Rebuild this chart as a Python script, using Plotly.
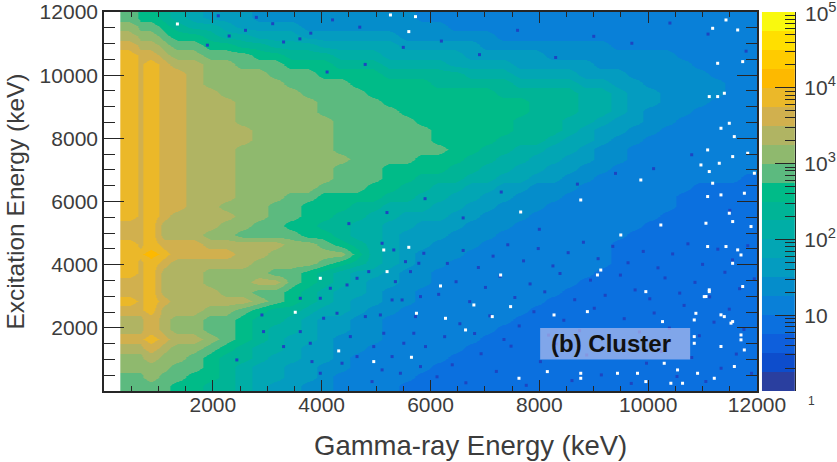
import plotly.graph_objects as go

# Bin edges of gamma-ray energy (keV): the 511 keV / 800 keV region is resolved more finely
gamma_edges = [300, 620, 720, 1000, 1200] + [1500 + 300 * i for i in range(36)]
excitation_kev = [11850 - 300 * i for i in range(40)]

# Count level of each bin, in quarter decades (0 = 1 count, 4 = 10, 8 = 100 ...)
levels = [
[11,10,10,9,8,7,6,6,6,5,5,5,5,5,5,5,5,5,5,4,4,4,4,4,4,4,4,4,4,4,4,4,4,4,4,4,4,4,4,4],
[12,11,11,10,9,8,8,7,6,6,6,6,5,5,5,5,5,5,5,5,5,4,4,4,4,4,4,4,4,4,4,4,4,4,4,4,4,4,4,4],
[13,12,12,11,10,10,9,8,8,7,7,7,6,6,6,6,6,6,5,5,5,5,5,5,4,4,4,4,4,4,4,4,4,4,4,4,4,4,4,4],
[14,13,13,12,11,11,10,10,9,9,8,8,8,7,7,7,7,7,6,6,6,6,6,5,5,5,5,5,5,5,5,4,4,4,4,4,4,4,4,4],
[15,14,14,13,12,12,11,11,11,10,10,9,9,9,8,8,8,7,7,7,7,7,6,6,6,6,6,5,5,5,5,5,5,5,5,4,4,4,4,4],
[15,14,15,14,13,13,12,12,11,11,11,10,10,10,9,9,9,8,8,8,8,7,7,7,7,6,6,6,6,6,5,5,5,5,5,5,4,4,4,4],
[15,14,15,14,14,13,12,12,12,12,11,11,11,10,10,10,10,9,9,9,9,9,8,8,8,7,7,7,7,6,6,6,5,5,5,5,5,4,4,4],
[15,14,15,14,14,13,12,12,12,12,12,11,11,11,11,10,10,10,10,10,9,9,9,9,9,8,8,8,8,7,7,6,6,5,5,5,5,5,4,4],
[15,14,15,14,14,13,13,12,12,12,12,12,11,11,11,11,10,10,10,10,10,10,10,10,9,9,9,9,9,8,8,7,6,6,5,5,5,5,4,4],
[15,14,15,14,14,13,13,13,12,12,12,12,12,11,11,11,11,10,10,10,10,10,10,10,10,10,9,9,9,8,8,7,6,6,5,5,5,4,4,4],
[15,14,15,14,14,13,13,13,12,12,12,12,12,11,11,11,11,11,10,10,10,10,10,10,10,10,9,9,9,8,8,7,6,5,5,5,4,4,4,4],
[15,14,15,14,14,13,13,13,12,12,12,12,12,12,11,11,11,11,11,10,10,10,10,10,10,9,9,9,8,8,7,6,6,5,5,4,4,4,4,4],
[15,14,15,14,14,13,13,13,13,12,12,12,12,12,11,11,11,11,11,11,10,10,10,10,10,9,9,9,8,7,6,6,5,5,4,4,4,4,4,4],
[15,14,15,14,14,13,13,13,13,12,12,12,12,12,11,11,11,11,11,11,10,10,10,10,9,9,9,8,7,7,6,5,5,4,4,4,4,4,4,4],
[15,14,15,14,14,13,13,13,12,12,12,12,12,12,11,11,11,11,11,11,11,10,10,9,9,8,8,7,7,6,5,5,4,4,4,4,4,4,4,4],
[15,14,15,14,14,13,13,13,12,12,12,12,12,12,12,11,11,11,11,10,10,10,9,9,8,8,7,7,6,6,5,5,4,4,4,4,4,4,4,4],
[15,14,15,14,14,13,13,13,12,12,12,12,12,12,11,11,11,10,10,10,10,9,9,8,8,7,7,6,6,5,5,4,4,4,4,4,4,4,4,4],
[15,14,15,14,14,13,13,13,12,12,12,12,12,12,11,11,11,10,10,9,9,9,8,8,7,7,6,6,5,5,4,4,4,4,4,4,4,4,4,3],
[15,14,15,14,14,13,13,13,12,12,12,12,12,11,11,11,10,10,9,9,8,8,7,7,6,6,5,5,5,4,4,4,4,4,4,4,3,3,3,3],
[15,14,15,14,14,13,13,13,12,12,12,11,11,10,10,10,10,9,9,8,8,7,7,6,6,5,5,5,4,4,4,4,4,4,4,3,3,3,3,3],
[15,14,15,14,14,13,13,12,12,12,11,11,10,10,10,9,9,8,8,8,7,7,6,6,5,5,5,4,4,4,4,4,4,4,4,3,3,3,3,3],
[15,14,15,14,13,13,13,13,12,12,11,11,10,10,9,9,8,8,7,7,7,6,6,5,5,5,4,4,4,4,4,4,4,4,3,3,3,3,3,3],
[14,14,15,13,13,13,13,12,12,11,11,10,10,9,9,8,8,7,7,6,6,6,5,5,5,4,4,4,4,4,4,4,4,3,3,3,3,3,3,3],
[14,14,15,13,13,13,12,12,11,11,11,11,10,10,9,8,8,7,6,6,6,5,5,5,4,4,4,4,4,4,4,4,3,3,3,3,3,3,3,3],
[15,14,15,14,14,14,13,13,13,13,13,12,12,11,10,9,8,7,6,6,5,5,5,4,4,4,4,4,4,4,4,3,3,3,3,3,3,3,3,3],
[15,15,16,15,14,14,14,14,13,13,12,12,12,12,12,10,8,7,6,5,5,5,4,4,4,4,4,4,4,4,4,3,3,3,3,3,3,3,3,3],
[15,14,15,14,13,13,13,13,13,12,12,12,12,11,10,9,8,7,6,5,5,4,4,4,4,4,4,4,4,4,4,3,3,3,3,3,3,3,3,3],
[15,14,15,13,13,13,12,12,12,12,11,11,10,9,8,7,7,6,5,5,4,4,4,4,4,4,4,4,4,4,3,3,3,3,3,3,3,3,3,3],
[14,14,15,13,13,13,12,12,12,13,13,11,10,9,8,7,6,6,5,5,4,4,4,4,4,4,4,4,4,3,3,3,3,3,3,3,3,3,3,3],
[14,14,15,13,13,13,13,12,12,11,11,10,9,8,7,7,6,5,5,4,4,4,4,4,4,4,4,4,3,3,3,3,3,3,3,3,3,3,3,3],
[15,14,15,14,13,13,13,13,13,12,11,10,9,8,7,6,6,5,5,4,4,4,4,4,4,4,4,3,3,3,3,3,3,3,3,3,3,3,3,3],
[14,14,15,13,13,13,12,12,11,10,9,9,8,7,7,6,5,5,4,4,4,4,4,4,4,4,3,3,3,3,3,3,3,3,3,3,3,3,3,3],
[13,13,14,13,12,12,11,11,10,9,9,8,7,6,6,5,5,4,4,4,4,4,4,4,4,3,3,3,3,3,3,3,3,3,3,3,3,3,3,3],
[13,13,14,13,12,12,11,11,10,9,8,8,7,6,6,5,5,4,4,4,4,4,4,4,3,3,3,3,3,3,3,3,3,3,3,3,3,3,3,3],
[14,14,15,14,13,13,12,11,10,9,8,7,7,6,5,5,5,4,4,4,4,4,4,3,3,3,3,3,3,3,3,3,3,3,3,3,3,3,3,3],
[13,13,14,13,12,12,11,10,9,8,8,7,6,6,5,5,4,4,4,4,4,4,3,3,3,3,3,3,3,3,3,3,3,3,3,3,3,3,3,3],
[12,12,13,12,12,11,10,9,9,8,7,7,6,6,5,4,4,4,4,4,4,3,3,3,3,3,3,3,3,3,3,3,3,3,3,3,3,3,3,3],
[12,12,12,12,11,11,10,9,8,7,7,6,6,5,5,4,4,4,4,4,3,3,3,3,3,3,3,3,3,3,3,3,3,3,3,3,3,3,3,3],
[11,11,12,11,11,10,10,9,8,7,7,6,6,5,4,4,4,4,4,3,3,3,3,3,3,3,3,3,3,3,3,3,3,3,3,3,3,3,3,3],
[11,11,11,11,10,10,9,9,8,7,6,6,5,5,4,4,4,4,3,3,3,3,3,3,3,3,3,3,3,3,3,3,3,3,3,3,3,3,3,3],
]

# Empty bins (white specks), keV
empty_gamma = [9068,11123,11031,9957,10877,10264,11399,10847,10847,10847,10295,10540,10908,8761,8761,8147,7626,9436,9804,9957,10417,10632,11215,11706,11552,11767,11552,6184,6797,6276,6644,7135,8270,8883,7472,
               11645,11430,11185,11737,11277,11400,11277,11123,11491,11338,11583,11829,11093,11553,11307,11123,11952,11185,11768,11338,11093,11491,11062,11553,11890,11430,11645,11093,11062,11123,11737,11338,11522,11706,11338,11584,
               5601,5141,5202,3975,3515,5742,4313,4957,5650,1349,5601,5724,5264,7657,9129,9865,10970,10233,7289,11706,8761,9497]
empty_excitation = [3674,3146,2988,3146,2460,2197,2355,2250,1722,1511,878,667,561,561,403,614,403,561,561,298,245,245,403,1775,2197,1300,4043,3326,2724,2302,1933,2355,2408,2513,2671,
                    11431,11748,11484,10429,10376,9427,9322,9322,8477,8319,8055,7528,7633,7422,7211,6948,6895,6579,6262,6209,6157,5629,5312,5365,5207,4574,4468,4574,2992,3203,3308,2411,2148,1620,1409,776,
                    4550,4465,3780,3569,2493,2461,1269,931,1068,11621,11379,11853,11906,5668,3830,6681,7157,5256,3673,4307,6048,4940]

# Low-count bins (dark specks), keV
low_gamma = [5110,5325,5540,5785,4865,4650,4466,4159,3975,3607,2902,2932,3300,3607,4036,4282,4803,5079,5294,5478,5816,5355,5632,5877,5141,5509,4650,4374,3822,3975,4926,5110,5816,5908,2441,3791,4527,4957,5294,5447,5693,5724,
             6120,6400,6650,6930,7210,7480,7760,8020,8310,8600,8870,9140,9420,9690,9970,10240,10530,10800,11060,11340,11620,11900,
             6260,6540,6810,7090,7350,7630,7900,8170,8450,8740,9010,9280,9560,9840,10110,10390,10660,10940,11210,11490,11760,
             6150,6470,6720,7010,7280,7550,7830,8100,8380,8650,8940,9210,9490,9760,10030,10310,10580,10860,11130,11410,11680,11950,
             6310,6600,6880,7150,7420,7710,7980,8250,8530,8810,9080,9350,9630,9910,10180,10450,10730,11000,11280,11550,11830,
             4500,5200,5900,6600,7300,8000,8700,9400,10100,10800,11500,4100,4800,5500,6200,6900,7600,8300,9000,9700,10400,11100,11800,2100,2600,3100,3600,4200,4700,1900,2300,2800,3300,3800]
low_excitation = [4677,4466,4096,4044,3780,3569,3358,3252,2936,2936,2408,1881,1406,1881,2303,2461,2356,2408,2883,2883,2989,3463,3780,4360,1828,1512,1090,879,931,562,298,668,773,1406,984,1512,1723,1406,1090,562,1828,2356,
                  450,830,260,1180,620,1420,180,930,1490,330,1140,510,1330,240,880,1250,460,1060,300,720,1170,560,
                  1720,2130,1820,2380,1630,2060,2510,1770,2240,1910,2620,1680,2290,1870,2470,1990,2710,1750,2180,2590,1950,
                  3060,3460,2830,3280,3630,2960,3390,3140,3720,2890,3510,3030,3670,3200,2920,3580,3100,3440,2980,3760,3240,3550,
                  4040,4450,3910,4270,4630,4120,4510,3960,4380,4710,4190,4580,4060,4420,3900,4340,4660,4010,4490,4150,4600,
                  5300,5650,6090,5480,6300,5120,6550,6890,7040,7480,5720,10100,10340,10880,11080,10650,11420,10560,11230,11010,11650,11300,10760,11880,11420,11630,11150,11750,11520,10950,11240,11830,11050,11330]

band_colors = ["#2a3f9f","#0d4dcc","#0e5fdc","#0b70df","#0980d8","#058dcb","#049cc0","#02a6b4","#00aea6","#00b496",
               "#00bb88","#5cba7f","#8fb96e","#b0b463","#d1b04e","#ebb829","#fdb900","#ffcb00","#ffdf00","#f9f90e"]
scale_ticks = [10, 100, 1000, 10000, 100000]
scale_labels = ["10", "10<sup>2</sup>", "10<sup>3</sup>", "10<sup>4</sup>", ""]

n = len(band_colors)
colorscale = []
for i, c in enumerate(band_colors):
    colorscale += [[i / n, c], [(i + 1) / n, c]]

INK = "#262626"
TXT = "#3c3c3c"
FONT = "Liberation Sans"

fig = go.Figure()
fig.add_trace(go.Heatmap(
    x=gamma_edges, y=excitation_kev[::-1],
    z=[[v + 0.5 for v in row] for row in levels[::-1]],
    zmin=0, zmax=n, colorscale=colorscale, showscale=False,
    zsmooth="best", hoverinfo="skip", xaxis="x", yaxis="y"))
fig.add_trace(go.Scatter(
    x=low_gamma, y=low_excitation, mode="markers",
    marker=dict(symbol="square", size=3, color="#1c45c2", line=dict(width=0)),
    hoverinfo="skip", showlegend=False, xaxis="x", yaxis="y"))
fig.add_trace(go.Scatter(
    x=empty_gamma, y=empty_excitation, mode="markers",
    marker=dict(symbol="square", size=3, color="white", line=dict(width=0)),
    hoverinfo="skip", showlegend=False, xaxis="x", yaxis="y"))
# colour scale drawn as its own log axis so that it can carry minor ticks
fig.add_trace(go.Heatmap(
    x=[0, 1], y=[10 ** (i / 4) for i in range(n + 1)],
    z=[[i + 0.5] for i in range(n)],
    zmin=0, zmax=n, colorscale=colorscale, showscale=False,
    hoverinfo="skip", xaxis="x2", yaxis="y2"))

fig.update_layout(
    width=837, height=462,
    margin=dict(l=104, r=42, t=12, b=71),
    paper_bgcolor="white", plot_bgcolor="white",
    font=dict(family=FONT, color=TXT, size=21),
    showlegend=False,
    xaxis=dict(domain=[0, 0.945], range=[0, 12000], tickvals=[2000,4000,6000,8000,10000,12000],
               ticks="inside", ticklen=11, tickwidth=1.3, tickcolor=INK,
               minor=dict(dtick=500, ticks="inside", ticklen=5, tickwidth=1.2, tickcolor=INK),
               showgrid=False, zeroline=False, showline=True, linecolor=INK, linewidth=1.6, mirror="ticks",
               tickformat="d", ticklabelstandoff=-6, automargin=False),
    yaxis=dict(range=[0, 12000], tickvals=[2000,4000,6000,8000,10000,12000],
               ticks="inside", ticklen=20, tickwidth=1.3, tickcolor=INK,
               minor=dict(dtick=500, ticks="inside", ticklen=11, tickwidth=1.2, tickcolor=INK),
               showgrid=False, zeroline=False, showline=True, linecolor=INK, linewidth=1.6, mirror="ticks",
               tickformat="d", automargin=False,
               title=dict(text="Excitation Energy (keV)", font=dict(size=24.5), standoff=8)),
    xaxis2=dict(domain=[0.952, 1], range=[0, 1], visible=False, automargin=False),
    yaxis2=dict(anchor="x2", side="right", type="log", range=[0, 5], automargin=False,
                tickvals=scale_ticks, ticktext=scale_labels,
                ticks="inside", ticklen=20, tickwidth=1.3, tickcolor=INK,
                minor=dict(ticks="inside", ticklen=10, tickwidth=1.2, tickcolor=INK, tickvals=[m * 10 ** d for d in range(5) for m in range(2, 10)]),
                showgrid=False, zeroline=False, showline=True, linecolor=INK, linewidth=1.3,
                ticklabelstandoff=4),
    shapes=[dict(type="rect", xref="x", yref="y", x0=8015, x1=10772, y0=1000, y1=1993,
                 fillcolor="rgba(200,200,240,0.62)", line=dict(width=0))],
    annotations=[
        dict(xref="x", yref="y", x=9320, y=1500, text="<b>(b) Cluster</b>", showarrow=False,
             font=dict(family=FONT, size=24, color="#111111")),
        dict(xref="paper", yref="paper", x=0.5304, y=-0.145, yanchor="middle", text="Gamma-ray Energy (keV)", showarrow=False,
             font=dict(size=27.5, color=TXT)),
        dict(xref="x2", yref="paper", x=1, y=1, text="10<sup>5</sup>", showarrow=False, xanchor="left", yanchor="middle",
             xshift=8, font=dict(size=21, color=TXT)),
        dict(xref="x2", yref="paper", x=1, y=0, text="1", showarrow=False, xanchor="left", yanchor="top",
             xshift=11, yshift=-1, font=dict(size=12, color=TXT)),
    ],
)

fig.write_html("out.html", config={"displayModeBar": False}, post_script="document.body.style.margin='0';")
